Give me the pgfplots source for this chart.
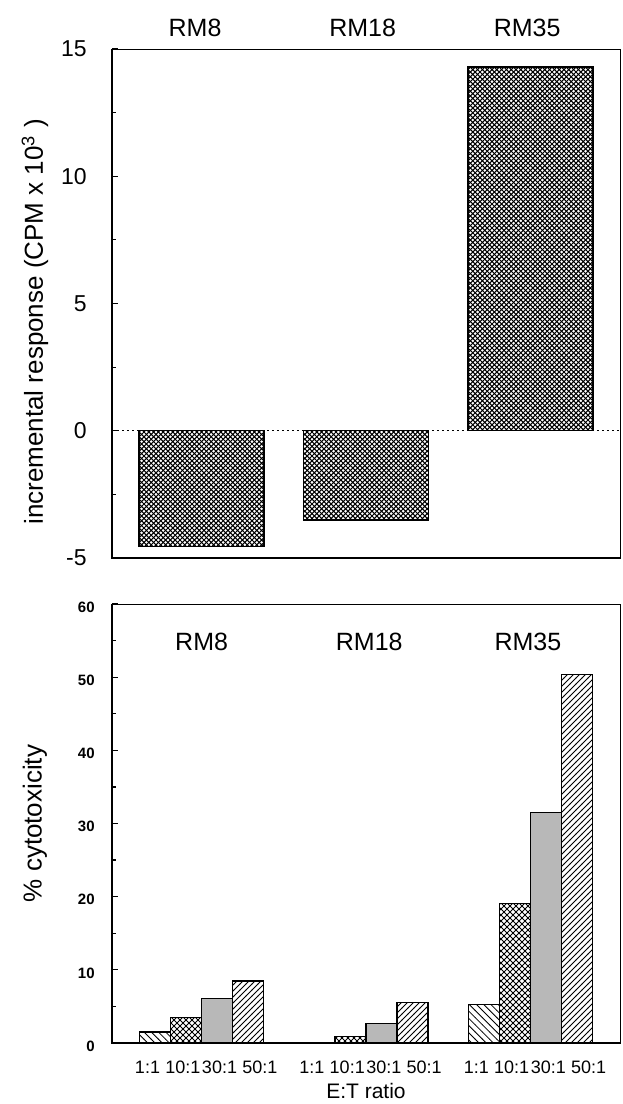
\documentclass[border=0pt]{standalone}
\usepackage{fontspec}
\setmainfont{Liberation Sans}
\usepackage{pgfplots}
\pgfplotsset{compat=1.18}
\usetikzlibrary{patterns}

\pgfdeclarepatternformonly{xfine}{\pgfqpoint{-0.5pt}{-0.5pt}}{\pgfqpoint{3pt}{3pt}}{\pgfqpoint{2.4pt}{2.4pt}}{%
  \pgfsetlinewidth{0.5pt}%
  \pgfpathmoveto{\pgfqpoint{-0.1pt}{-0.1pt}}\pgfpathlineto{\pgfqpoint{2.5pt}{2.5pt}}%
  \pgfpathmoveto{\pgfqpoint{-0.1pt}{2.5pt}}\pgfpathlineto{\pgfqpoint{2.5pt}{-0.1pt}}%
  \pgfusepath{stroke}}
\pgfdeclarepatternformonly{xcoarse}{\pgfqpoint{-0.5pt}{-0.5pt}}{\pgfqpoint{3.5pt}{3.5pt}}{\pgfqpoint{3pt}{3pt}}{%
  \pgfsetlinewidth{0.5pt}%
  \pgfpathmoveto{\pgfqpoint{-0.1pt}{-0.1pt}}\pgfpathlineto{\pgfqpoint{3.1pt}{3.1pt}}%
  \pgfpathmoveto{\pgfqpoint{-0.1pt}{3.1pt}}\pgfpathlineto{\pgfqpoint{3.1pt}{-0.1pt}}%
  \pgfusepath{stroke}}
\pgfdeclarepatternformonly{nelines}{\pgfqpoint{-0.5pt}{-0.5pt}}{\pgfqpoint{3.5pt}{3.5pt}}{\pgfqpoint{3pt}{3pt}}{%
  \pgfsetlinewidth{0.4pt}%
  \pgfpathmoveto{\pgfqpoint{-0.1pt}{-0.1pt}}\pgfpathlineto{\pgfqpoint{3.1pt}{3.1pt}}%
  \pgfusepath{stroke}}
\pgfdeclarepatternformonly{nwlines}{\pgfqpoint{-0.5pt}{-0.5pt}}{\pgfqpoint{4pt}{4pt}}{\pgfqpoint{3.6pt}{3.6pt}}{%
  \pgfsetlinewidth{0.4pt}%
  \pgfpathmoveto{\pgfqpoint{-0.1pt}{3.7pt}}\pgfpathlineto{\pgfqpoint{3.7pt}{-0.1pt}}%
  \pgfusepath{stroke}}

\pgfplotstableread{
x y
0 -4.55
1 -3.5
2 14.3
}\toptable

\pgfplotstableread{
x y
-0.282 1.5
0.718 0
1.718 5.3
}\ratioA
\pgfplotstableread{
x y
-0.094 3.45
0.906 0.9
1.906 19.1
}\ratioB
\pgfplotstableread{
x y
0.094 6.1
1.094 2.7
2.094 31.5
}\ratioC
\pgfplotstableread{
x y
0.282 8.45
1.282 5.5
2.282 50.4
}\ratioD

\pgfplotsset{
  myax/.style={
    scale only axis, width=254pt,
    xmin=-0.545, xmax=2.545,
    axis line style={line width=0.5pt},
    clip=false,
    /pgf/number format/assume math mode=true,
    ytick pos=left,
    minor y tick num=1,
    y tick style={black, line width=0.6pt},
    major tick length=3pt, minor tick length=2pt,
  },
  mybar/.style={ybar, bar shift=0pt, draw=black, line width=0.7pt},
}

\begin{document}
\begin{tikzpicture}
\path[use as bounding box] (-56pt,-273pt) rectangle (255pt,279pt);

% ---------- top panel ----------
\begin{axis}[myax,
  at={(0pt,0pt)}, anchor=south west,
  height=254.5pt,
  ymin=-5, ymax=15, ytick={-5,0,5,10,15},
  xtick=\empty,
  yticklabel style={font=\fontsize{11.5}{13}\selectfont, anchor=east, inner sep=0pt, xshift=-12.5pt},
  ylabel={incremental response (CPM x 10\textsuperscript{3} )},
  ylabel style={font=\fontsize{13}{15}\selectfont, at={(axis description cs:-0.1516,0.464)}, anchor=center},
]
\addplot[dash pattern=on 0.8pt off 1.7pt, line width=0.7pt] coordinates {(-0.545,0) (2.545,0)};
\addplot[mybar, bar width=0.76, pattern=xfine] table[x=x,y=y] {\toptable};
\draw[line width=1pt] (rel axis cs:0,1) -- (rel axis cs:0,0) -- (rel axis cs:1,0);
\node[anchor=base, font=\fontsize{12.5}{14}\selectfont, yshift=6.5pt] at (axis cs:-0.04,15) {RM8};
\node[anchor=base, font=\fontsize{12.5}{14}\selectfont, yshift=6.5pt] at (axis cs:0.98,15) {RM18};
\node[anchor=base, font=\fontsize{12.5}{14}\selectfont, yshift=6.5pt] at (axis cs:1.98,15) {RM35};
\end{axis}

% ---------- bottom panel ----------
\begin{axis}[myax,
  at={(0pt,-242.5pt)}, anchor=south west,
  height=219.5pt,
  ymin=0, ymax=60, ytick={0,10,...,60},
  xtick={-0.329,-0.114,0.109,0.354, 0.671,0.886,1.109,1.354, 1.671,1.886,2.109,2.354},
  xticklabels={1:1,10:1,30:1,50:1,1:1,10:1,30:1,50:1,1:1,10:1,30:1,50:1},
  x tick style={draw=none},
  xticklabel style={font=\fontsize{9}{10}\selectfont, anchor=base, inner sep=0pt, yshift=-15pt},
  yticklabel style={font=\bfseries\fontsize{7.5}{8}\selectfont, anchor=east, inner sep=0pt, xshift=-8.5pt, yshift=-1.5pt},
  ylabel={\% cytotoxicity},
  ylabel style={font=\fontsize{13}{15}\selectfont, at={(axis description cs:-0.1516,0.5)}, anchor=center},
  xlabel={E:T ratio},
  xlabel style={font=\fontsize{10.5}{12}\selectfont, at={(axis description cs:0.5,0)}, anchor=base, yshift=-27.5pt},
]
\addplot[mybar, bar width=0.188, pattern=nwlines] table[x=x,y=y] {\ratioA};
\addplot[mybar, bar width=0.188, pattern=xcoarse] table[x=x,y=y] {\ratioB};
\addplot[mybar, bar width=0.188, fill=black!28] table[x=x,y=y] {\ratioC};
\addplot[mybar, bar width=0.188, pattern=nelines] table[x=x,y=y] {\ratioD};
\draw[line width=1.2pt] (rel axis cs:0,1) -- (rel axis cs:0,0) -- (rel axis cs:1,0);
\node[anchor=base, font=\fontsize{12.5}{14}\selectfont] at (axis cs:0,53.6) {RM8};
\node[anchor=base, font=\fontsize{12.5}{14}\selectfont] at (axis cs:1.02,53.6) {RM18};
\node[anchor=base, font=\fontsize{12.5}{14}\selectfont] at (axis cs:1.985,53.6) {RM35};
\end{axis}
\end{tikzpicture}
\end{document}
